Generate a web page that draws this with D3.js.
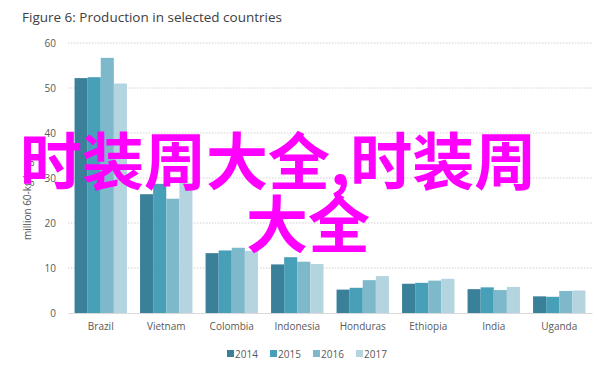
<!DOCTYPE html>
<html><head><meta charset="utf-8">
<script src="https://cdn.jsdelivr.net/npm/d3@7"></script>
<style>body{margin:0;background:#fff}svg{display:block}</style>
</head><body>
<script>
const categories = ["Brazil","Vietnam","Colombia","Indonesia","Honduras","Ethiopia","India","Uganda"];
const years = ["2014","2015","2016","2017"];
const v2014 = [52.2,26.4,13.3,10.8,5.2,6.5,5.3,3.7];
const v2015 = [52.4,28.7,13.9,12.4,5.6,6.7,5.7,3.6];
const v2016 = [56.7,25.4,14.5,11.4,7.3,7.2,5.1,4.9];
const v2017 = [51.0,28.9,13.8,10.9,8.2,7.6,5.8,5.0];
const yTicks = [0,10,20,30,40,50,60];
const colors = ["#3b8099","#48a0b8","#7db8cb","#b4d4df"];
const title = "Figure 6: Production in selected countries";
const yTitle = "million 60-kg bags";
const watermark1 = "时装周大全,时装周";
const watermark2 = "大全";

const series = [v2014,v2015,v2016,v2017];
const W=612,H=366, L=68, R=592, T=43, B=313;
const svg = d3.select("body").append("svg").attr("width",W).attr("height",H);
const font = "'Open Sans', 'Liberation Sans', sans-serif";

const x0 = d3.scaleBand().domain(categories).range([L,R]).paddingInner(0.2).paddingOuter(0.1);
const x1 = d3.scaleBand().domain(years).range([0,x0.bandwidth()]);
const y = d3.scaleLinear().domain([0,60]).range([B,T]);

svg.append("text").attr("x",22).attr("y",22).attr("font-family",font).attr("font-size",13.5)
  .attr("fill","#404040").text(title);

// gridlines
svg.append("g").selectAll("line").data(yTicks.filter(d=>d>0)).join("line")
  .attr("x1",L).attr("x2",R).attr("y1",d=>y(d)).attr("y2",d=>y(d))
  .attr("stroke","#d0d0d0").attr("stroke-dasharray","1.5,1.5").attr("stroke-width",1);

// y axis labels
const ya = svg.append("g").attr("transform",`translate(${L},0)`)
  .call(d3.axisLeft(y).tickValues(yTicks).tickSize(0).tickPadding(12));
ya.select(".domain").remove();
ya.selectAll("text").attr("font-family",font).attr("font-size",10).attr("fill","#595959");

// bars
const g = svg.append("g");
categories.forEach((c,i)=>{
  years.forEach((yr,j)=>{
    const v = series[j][i];
    g.append("rect").attr("x",x0(c)+x1(yr)).attr("width",x1.bandwidth())
      .attr("y",y(v)).attr("height",y(0)-y(v)).attr("fill",colors[j]);
  });
});

// x axis
const xa = svg.append("g").attr("transform",`translate(0,${B})`)
  .call(d3.axisBottom(x0).tickSize(0).tickPadding(10));
xa.select(".domain").attr("stroke","#d9d9d9");
xa.selectAll("text").attr("font-family",font).attr("font-size",10).attr("fill","#595959");

// y title
svg.append("text").attr("transform",`translate(31,${(T+B)/2+20}) rotate(-90)`)
  .attr("text-anchor","middle").attr("font-family",font).attr("font-size",10).attr("fill","#595959").text(yTitle);

// legend
const lg = svg.append("g").attr("transform","translate(227,354)");
let lx=0;
years.forEach((yr,j)=>{
  lg.append("rect").attr("x",lx).attr("y",-4).attr("width",7).attr("height",7).attr("fill",colors[j]);
  lg.append("text").attr("x",lx+8).attr("y",3.5).attr("font-family",font).attr("font-size",10).attr("fill","#595959").text(yr);
  lx += 43;
});

// watermark
const wf = "'Noto Sans CJK SC', sans-serif";
svg.append("text").attr("x",20).attr("y",185).attr("font-family",wf).attr("font-weight","bold")
  .attr("font-size",62).attr("fill","#ff00ff").text(watermark1);
svg.append("text").attr("x",308).attr("y",248).attr("text-anchor","middle").attr("font-family",wf).attr("font-weight","bold")
  .attr("font-size",62).attr("fill","#ff00ff").text(watermark2);
</script>
</body></html>
